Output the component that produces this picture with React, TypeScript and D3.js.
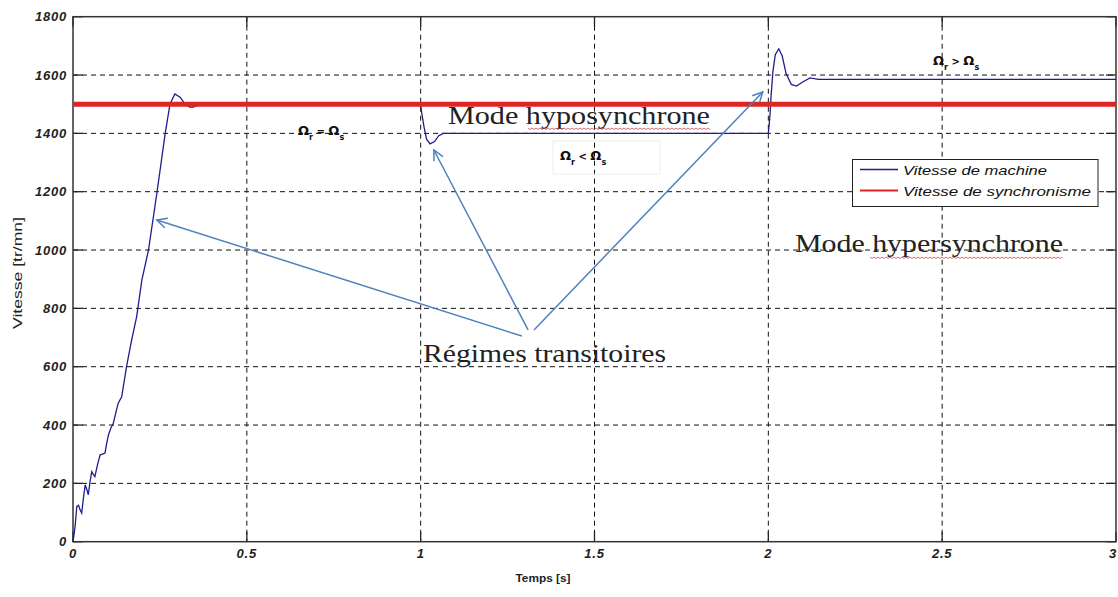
import React, { useEffect, useRef } from "react";
import * as d3 from "d3";

// machine speed (tr/mn), time in s
const timeS = [
  0, 0.003, 0.006, 0.011, 0.016, 0.02, 0.025, 0.03, 0.035, 0.04, 0.044, 0.049,
  0.054, 0.058, 0.063, 0.07, 0.078, 0.085, 0.092, 0.097, 0.102, 0.109, 0.116,
  0.123, 0.13, 0.14, 0.154, 0.168, 0.183, 0.198, 0.217, 0.241, 0.265, 0.279,
  0.293, 0.308, 0.322, 0.336, 0.346, 0.36, 1.0, 1.003, 1.01, 1.017, 1.027,
  1.04, 1.052, 1.065, 2.0, 2.004, 2.008, 2.013, 2.02, 2.03, 2.04, 2.051, 2.066,
  2.081, 2.1, 2.12, 2.144, 3.0,
];
const speedRpm = [
  0, 25, 52, 121, 125, 110, 98, 150, 195, 178, 161, 205, 240, 232, 223, 262,
  298, 300, 304, 338, 366, 390, 406, 442, 475, 497, 600, 688, 771, 897, 999,
  1193, 1398, 1501, 1535, 1524, 1501, 1490, 1490, 1497, 1497, 1470, 1420, 1380,
  1364, 1372, 1392, 1400, 1400, 1450, 1530, 1610, 1670, 1690, 1665, 1605, 1568,
  1562, 1577, 1590, 1585, 1585,
];
const syncSpeed = 1500;

const xTicks = [0, 0.5, 1, 1.5, 2, 2.5, 3];
const xTickLabels = ["0", "0.5", "1", "1.5", "2", "2.5", "3"];
const yTicks = [0, 200, 400, 600, 800, 1000, 1200, 1400, 1600, 1800];
const legendLabels = ["Vitesse de machine", "Vitesse de synchronisme"];

// arrows: [t, v] start -> [t, v] end
const arrowFrom = [
  [1.291, 705],
  [1.309, 726],
  [1.326, 726],
];
const arrowTo = [
  [0.241, 1103],
  [1.038, 1343],
  [1.984, 1542],
];

function App() {
  const ref = useRef(null);

  useEffect(() => {
    const W = 1118,
      H = 597;
    const left = 73,
      right = 1116,
      top = 16.7,
      bottom = 541.7;

    const root = d3.select(ref.current);
    root.selectAll("*").remove();
    const svg = root
      .append("svg")
      .attr("width", W)
      .attr("height", H)
      .style("position", "absolute")
      .style("left", "0px")
      .style("top", "0px")
      .style("background", "#fff");

    const x = d3.scaleLinear().domain([0, 3]).range([left, right]);
    const y = d3.scaleLinear().domain([0, 1800]).range([bottom, top]);

    const sans = "'Liberation Sans', Arial, sans-serif";
    const serif = "'Liberation Serif', 'Times New Roman', serif";

    // grid
    const grid = svg.append("g").attr("stroke", "#111").attr("stroke-width", 1).attr("stroke-dasharray", "5,4");
    xTicks.slice(1, -1).forEach((t) => {
      grid.append("line").attr("x1", x(t)).attr("x2", x(t)).attr("y1", top).attr("y2", bottom);
    });
    yTicks.slice(1, -1).forEach((v) => {
      grid.append("line").attr("x1", left).attr("x2", right).attr("y1", y(v)).attr("y2", y(v));
    });

    // ticks inside on all sides
    const ticks = svg.append("g").attr("stroke", "#222").attr("stroke-width", 1.3);
    xTicks.forEach((t) => {
      ticks.append("line").attr("x1", x(t)).attr("x2", x(t)).attr("y1", bottom).attr("y2", bottom - 10);
      ticks.append("line").attr("x1", x(t)).attr("x2", x(t)).attr("y1", top).attr("y2", top + 10);
    });
    yTicks.forEach((v) => {
      ticks.append("line").attr("x1", left).attr("x2", left + 10).attr("y1", y(v)).attr("y2", y(v));
      ticks.append("line").attr("x1", right).attr("x2", right - 10).attr("y1", y(v)).attr("y2", y(v));
    });

    // frame
    svg
      .append("rect")
      .attr("x", left)
      .attr("y", top)
      .attr("width", right - left)
      .attr("height", bottom - top)
      .attr("fill", "none")
      .attr("stroke", "#333")
      .attr("stroke-width", 1.5);

    // tick labels
    yTicks.forEach((v) => {
      svg
        .append("text")
        .attr("x", 67)
        .attr("y", y(v))
        .attr("dy", "0.36em")
        .attr("text-anchor", "end")
        .attr("font-family", sans)
        .attr("font-size", 13)
        .attr("font-weight", "bold")
        .attr("font-style", "italic")
        .attr("letter-spacing", 0.8)
        .attr("fill", "#222")
        .text(String(v));
    });
    xTicks.forEach((t, i) => {
      const last = i === xTicks.length - 1;
      svg
        .append("text")
        .attr("x", last ? W - 1 : x(t))
        .attr("y", 558)
        .attr("text-anchor", last ? "end" : "middle")
        .attr("font-family", sans)
        .attr("font-size", 13)
        .attr("font-weight", "bold")
        .attr("font-style", "italic")
        .attr("letter-spacing", 0.8)
        .attr("fill", "#222")
        .text(xTickLabels[i]);
    });

    // axis titles
    svg
      .append("text")
      .attr("x", 543)
      .attr("y", 582)
      .attr("text-anchor", "middle")
      .attr("font-family", sans)
      .attr("font-size", 11)
      .attr("font-weight", "bold")
      .attr("fill", "#222")
      .attr("textLength", 55)
      .attr("lengthAdjust", "spacingAndGlyphs")
      .text("Temps [s]");
    svg
      .append("text")
      .attr("transform", "translate(22,273) rotate(-90)")
      .attr("text-anchor", "middle")
      .attr("font-family", sans)
      .attr("font-size", 12)
      .attr("fill", "#222")
      .attr("textLength", 112)
      .attr("lengthAdjust", "spacingAndGlyphs")
      .text("Vitesse [tr/mn]");

    // machine speed
    const pts = timeS.map((t, i) => [t, speedRpm[i]]);
    svg
      .append("path")
      .datum(pts)
      .attr("fill", "none")
      .attr("stroke", "#1e1e8c")
      .attr("stroke-width", 1.3)
      .attr(
        "d",
        d3
          .line()
          .x((d) => x(d[0]))
          .y((d) => y(d[1]))
      );

    // synchronous speed
    svg
      .append("line")
      .attr("x1", x(0))
      .attr("x2", x(3))
      .attr("y1", y(syncSpeed))
      .attr("y2", y(syncSpeed))
      .attr("stroke", "#e02424")
      .attr("stroke-width", 5);

    // faint box behind Ωr < Ωs
    svg
      .append("rect")
      .attr("x", 553)
      .attr("y", 141)
      .attr("width", 107)
      .attr("height", 33)
      .attr("fill", "none")
      .attr("stroke", "#eeeeee");

    // omega labels
    const omega = (px, py, op) => {
      const t = svg
        .append("text")
        .attr("x", px)
        .attr("y", py)
        .attr("font-family", "'DejaVu Sans', sans-serif")
        .attr("font-size", 13)
        .attr("font-weight", "bold")
        .attr("fill", "#111");
      t.append("tspan").text("Ω");
      t.append("tspan").attr("font-size", 8).attr("dy", 5).text("r");
      t.append("tspan").attr("dy", -5).attr("font-size", 10).text(` ${op} `);
      t.append("tspan").text("Ω");
      t.append("tspan").attr("font-size", 8).attr("dy", 5).text("s");
    };
    omega(298, 135, "=");
    omega(560, 160, "<");
    omega(933, 65, ">");

    // serif annotations
    const note = (txt, px, py, len) => {
      svg
        .append("text")
        .attr("x", px)
        .attr("y", py)
        .attr("font-family", serif)
        .attr("font-size", 25)
        .attr("fill", "#222")
        .attr("textLength", len)
        .attr("lengthAdjust", "spacingAndGlyphs")
        .text(txt);
    };
    note("Mode hyposynchrone", 448, 123.5, 262);
    note("Mode hypersynchrone", 795, 251.7, 268);
    note("Régimes transitoires", 423, 361.7, 243);

    // spell-check squiggles
    const squiggle = (x0, x1, yy) => {
      const p = d3.path();
      p.moveTo(x0, yy);
      let k = 0;
      for (let xx = x0 + 2; xx <= x1; xx += 2) {
        p.lineTo(xx, yy + (k % 2 === 0 ? 1.5 : 0));
        k++;
      }
      svg.append("path").attr("d", p.toString()).attr("fill", "none").attr("stroke", "#d04545").attr("stroke-width", 0.8);
    };
    squiggle(528, 710, 128);
    squiggle(870, 1063, 257);

    // arrows
    const defs = svg.append("defs");
    defs
      .append("marker")
      .attr("id", "arrowHead")
      .attr("markerUnits", "userSpaceOnUse")
      .attr("markerWidth", 14)
      .attr("markerHeight", 14)
      .attr("refX", 11)
      .attr("refY", 6)
      .attr("orient", "auto")
      .append("path")
      .attr("d", "M1,1 L11,6 L1,11")
      .attr("fill", "none")
      .attr("stroke", "#4f81bd")
      .attr("stroke-width", 1.5);
    arrowFrom.forEach((a, i) => {
      svg
        .append("line")
        .attr("x1", x(a[0]))
        .attr("y1", y(a[1]))
        .attr("x2", x(arrowTo[i][0]))
        .attr("y2", y(arrowTo[i][1]))
        .attr("stroke", "#4f81bd")
        .attr("stroke-width", 1.5)
        .attr("marker-end", "url(#arrowHead)");
    });

    // legend
    const lg = svg.append("g");
    lg.append("rect")
      .attr("x", 852.5)
      .attr("y", 159.5)
      .attr("width", 245.5)
      .attr("height", 47)
      .attr("fill", "#fff")
      .attr("stroke", "#222")
      .attr("stroke-width", 1);
    const legendColors = ["#1e1e8c", "#e02424"];
    const legendLens = [144, 188];
    legendLabels.forEach((lab, i) => {
      const yy = 169.5 + i * 21;
      lg.append("line")
        .attr("x1", 860)
        .attr("x2", 898)
        .attr("y1", yy)
        .attr("y2", yy)
        .attr("stroke", legendColors[i])
        .attr("stroke-width", i === 0 ? 1.3 : 2);
      lg.append("text")
        .attr("x", 903)
        .attr("y", yy + 5.5)
        .attr("font-family", sans)
        .attr("font-size", 13)
        .attr("font-style", "italic")
        .attr("fill", "#111")
        .attr("textLength", legendLens[i])
        .attr("lengthAdjust", "spacingAndGlyphs")
        .text(lab);
    });
  }, []);

  return <div ref={ref}></div>;
}

export default App;
